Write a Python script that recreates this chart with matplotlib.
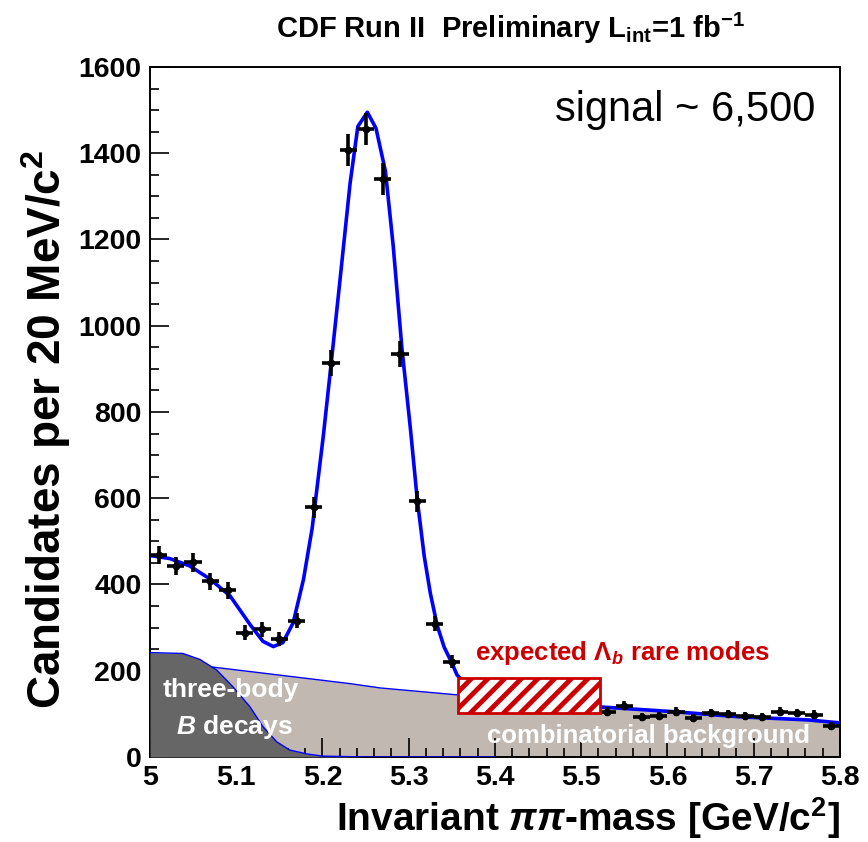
import matplotlib
matplotlib.use("Agg")
import matplotlib.pyplot as plt
from matplotlib.patches import Rectangle
import numpy as np

plt.rcParams['font.family'] = ['Liberation Sans', 'DejaVu Sans']
plt.rcParams['mathtext.fontset'] = 'custom'
plt.rcParams['mathtext.rm'] = 'Liberation Sans:bold'
plt.rcParams['mathtext.it'] = 'Liberation Sans:italic:bold'
plt.rcParams['mathtext.bf'] = 'Liberation Sans:bold'
plt.rcParams['hatch.linewidth'] = 3.5

# data points (bin centres, 20 MeV bins) - bins under the Lambda_b box are hidden
mass = [5.01, 5.03, 5.05, 5.07, 5.09, 5.11, 5.13, 5.15, 5.17, 5.19,
        5.21, 5.23, 5.25, 5.27, 5.29, 5.31, 5.33, 5.35,
        5.53, 5.55, 5.57, 5.59, 5.61, 5.63, 5.65, 5.67, 5.69, 5.71,
        5.73, 5.75, 5.77, 5.79]
counts = [468, 442, 451, 407, 386, 288, 296, 274, 316, 579,
          914, 1407, 1456, 1340, 935, 593, 309, 221,
          105, 119, 93, 95, 105, 91, 102, 100, 95, 93,
          105, 102, 98, 72]

# total fit curve
fit_x = [5.000, 5.023, 5.046, 5.070, 5.093, 5.116, 5.131, 5.143, 5.154, 5.166,
         5.178, 5.188, 5.201, 5.211, 5.220, 5.232, 5.241, 5.252, 5.262, 5.273,
         5.282, 5.292, 5.302, 5.310, 5.318, 5.325, 5.333, 5.341, 5.350, 5.356,
         5.370, 5.400, 5.450, 5.522, 5.607, 5.684, 5.762, 5.800]
fit_y = [467, 460, 443, 412, 373, 307, 268, 256, 265, 311,
         412, 530, 745, 930, 1100, 1330, 1462, 1495, 1458, 1358,
         1185, 950, 760, 595, 465, 380, 305, 255, 218, 190,
         162, 145, 133, 116, 105, 93, 86, 79]

# combinatorial background
comb_x = [5.000, 5.070, 5.116, 5.174, 5.232, 5.267, 5.356, 5.522, 5.607, 5.684, 5.762, 5.800]
comb_y = [225, 209, 198, 184, 170, 160, 144, 116, 105, 93, 86, 79]

# three-body B decays
b3_x = [5.000, 5.038, 5.058, 5.077, 5.096, 5.116, 5.131, 5.147, 5.162, 5.182, 5.200, 5.250, 5.400]
b3_y = [242, 240, 226, 202, 163, 116, 70, 35, 16, 7, 2, 0, 0]

# expected Lambda_b rare modes window
lb_lo, lb_hi = 5.357, 5.522
lb_bottom, lb_top = 102, 184

fig = plt.figure(figsize=(8.68, 8.42), dpi=100)
ax = fig.add_axes([0.1728, 0.101, 0.7949, 0.8195])

ax.fill_between(comb_x, comb_y, 0, color='#c1b9b1', lw=0, zorder=1)
ax.plot(comb_x, comb_y, color='#0000ff', lw=1.0, zorder=2)
ax.fill_between(b3_x, b3_y, 0, color='#666666', lw=0, zorder=3)
ax.plot(b3_x, b3_y, color='#0000ff', lw=1.0, zorder=4)

ax.plot(fit_x, fit_y, color='#0000ff', lw=2.6, zorder=5)

ax.errorbar(mass, counts, yerr=np.sqrt(counts), xerr=0.01, fmt='o', ms=4.5,
            color='black', elinewidth=2.6, capsize=0, zorder=6)

box = Rectangle((lb_lo, lb_bottom), lb_hi - lb_lo, lb_top - lb_bottom,
                facecolor='white', edgecolor='#cc0000', hatch='//', lw=2, zorder=7)
ax.add_patch(box)

ax.set_xlim(5.0, 5.8)
ax.set_ylim(0, 1600)
ax.set_xticks(np.arange(5.0, 5.81, 0.1))
ax.set_xticklabels(['5', '5.1', '5.2', '5.3', '5.4', '5.5', '5.6', '5.7', '5.8'])
ax.set_xticks(np.arange(5.0, 5.8, 0.02), minor=True)
ax.set_yticks(np.arange(0, 1601, 200))
ax.set_yticks(np.arange(0, 1600, 50), minor=True)
ax.tick_params(which='both', direction='in', top=False, right=False,
               labelsize=20.5, width=1.2, pad=6)
ax.tick_params(which='major', length=14)
ax.tick_params(which='minor', length=6.5)
for lab in ax.get_xticklabels() + ax.get_yticklabels():
    lab.set_fontweight('bold')
for sp in ax.spines.values():
    sp.set_linewidth(1.4)

ax.set_ylabel('Candidates per 20 MeV/c$^\\mathregular{2}$', fontsize=33,
              fontweight='bold')
ax.yaxis.set_label_coords(-0.112, 0.475)
ax.set_xlabel('Invariant $\\pi\\pi$-mass [GeV/c$^\\mathregular{2}$]', fontsize=28,
              fontweight='bold', ha='right')
ax.xaxis.set_label_coords(1.0, -0.055)

fig.text(0.588, 0.966, 'CDF Run II  Preliminary L$_\\mathregular{int}$=1 fb$^\\mathregular{-1}$',
         ha='center', va='center', fontsize=21, fontweight='bold')

ax.text(5.47, 1500, 'signal ~ 6,500', fontsize=30, va='center', ha='left')
ax.text(5.377, 240, 'expected $\\mathit{\\Lambda_b}$ rare modes', fontsize=18.5,
        fontweight='bold', color='#cc0000', va='center', ha='left', zorder=8)
ax.text(5.015, 156, 'three-body', fontsize=19, fontweight='bold', color='white',
        va='center', ha='left', zorder=8)
ax.text(5.03, 70, '$\\mathit{B}$ decays', fontsize=19, fontweight='bold', color='white',
        va='center', ha='left', zorder=8)
ax.text(5.391, 48, 'combinatorial background', fontsize=18.5, fontweight='bold',
        color='white', va='center', ha='left', zorder=8)

fig.savefig('out.png', dpi=100)
